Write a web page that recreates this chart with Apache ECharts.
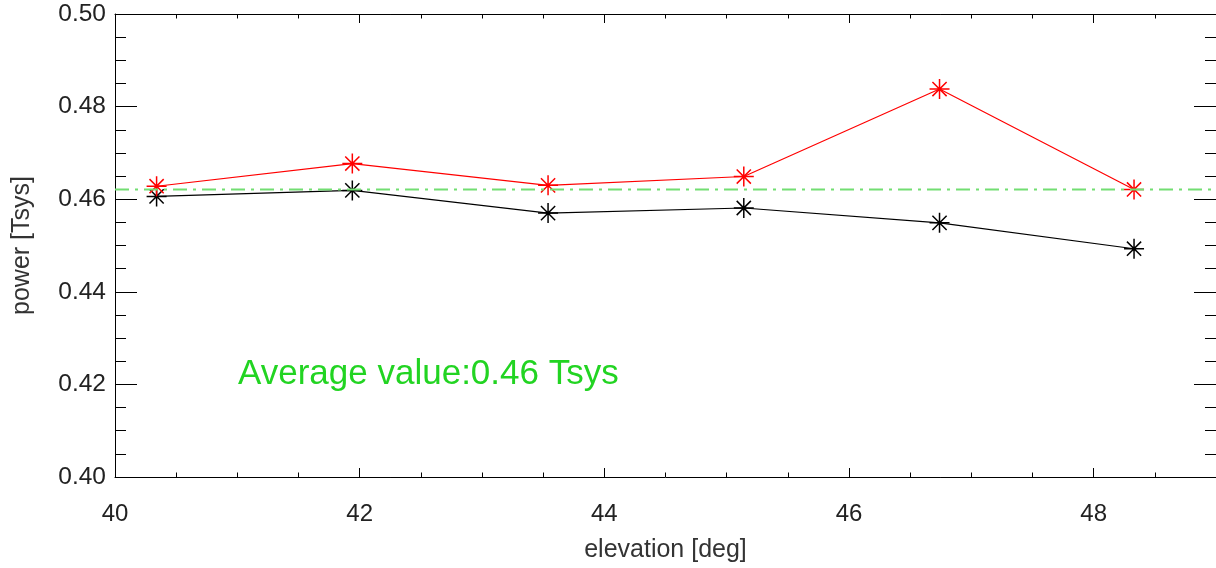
<!DOCTYPE html>
<html>
<head>
<meta charset="utf-8">
<script src="https://cdn.jsdelivr.net/npm/echarts@6/dist/echarts.min.js"></script>
<style>
html,body{margin:0;padding:0;background:#fff;}
#chart{width:1216px;height:568px;}
</style>
</head>
<body>
<div id="chart"></div>
<script>
// ---- data ----
const elevation = [40.34, 41.94, 43.54, 45.14, 46.74, 48.33];
const powerRed = [0.4628, 0.4677, 0.4630, 0.4649, 0.4838, 0.4621];
const powerBlack = [0.4606, 0.4619, 0.4570, 0.4581, 0.4549, 0.4493];
const averageValue = 0.4621;
const averageSpan = [40, 49];
const averageText = 'Average value:0.46 Tsys';
const xTitle = 'elevation [deg]';
const yTitle = 'power [Tsys]';

const FONT = '"Liberation Sans", Arial, Helvetica, sans-serif';
const star = 'path://M10 0 L10 20 M0 10 L20 10 M2.9 2.9 L17.1 17.1 M17.1 2.9 L2.9 17.1';

const chart = echarts.init(document.getElementById('chart'), null, {renderer: 'canvas'});

function pairs(xs, ys) { return xs.map((x, i) => [x, ys[i]]); }

const gridDef = {left: 115, top: 14, width: 1105, height: 464, containLabel: false};

const xMajor = {
  type: 'value', min: 40, max: 49, interval: 2,
  axisLine: {show: true, lineStyle: {color: '#000', width: 1}},
  axisTick: {show: true, inside: true, length: 9, lineStyle: {color: '#000', width: 1}},
  splitLine: {show: false}
};
const xMinor = {
  type: 'value', min: 40, max: 49, interval: 0.5,
  axisLine: {show: false},
  axisTick: {show: true, inside: true, length: 4.5, lineStyle: {color: '#000', width: 1}},
  axisLabel: {show: false},
  splitLine: {show: false}
};
const yBase = {
  type: 'value', min: 0.40, max: 0.50, interval: 0.02,
  axisLine: {show: true, lineStyle: {color: '#000', width: 1}},
  axisTick: {show: true, inside: true, length: 22, lineStyle: {color: '#000', width: 1}},
  minorTick: {show: true, splitNumber: 4, length: 11, lineStyle: {color: '#000', width: 1}},
  splitLine: {show: false}
};

const option = {
  animation: false,
  backgroundColor: '#fff',
  grid: gridDef,
  xAxis: [
    Object.assign({}, xMajor, {
      position: 'bottom',
      name: xTitle, nameLocation: 'middle', nameGap: 61,
      nameTextStyle: {fontFamily: FONT, fontSize: 25, color: '#333'},
      axisLabel: {show: true, margin: 25, showMaxLabel: false, fontFamily: FONT, fontSize: 24, color: '#222'}
    }),
    Object.assign({}, xMajor, {position: 'top', axisLabel: {show: false}}),
    Object.assign({}, xMinor, {position: 'bottom'}),
    Object.assign({}, xMinor, {position: 'top'})
  ],
  yAxis: [
    Object.assign({}, yBase, {
      position: 'left',
      name: yTitle, nameLocation: 'middle', nameGap: 80,
      nameTextStyle: {fontFamily: FONT, fontSize: 25, color: '#333'},
      axisLabel: {show: true, margin: 9, fontFamily: FONT, fontSize: 24.5, color: '#222',
        formatter: v => v.toFixed(2)}
    }),
    Object.assign({}, yBase, {position: 'right', axisLabel: {show: false}})
  ],
  series: [
    {
      type: 'line', xAxisIndex: 0, yAxisIndex: 0,
      data: averageSpan.map(x => [x, averageValue]),
      lineStyle: {color: '#72de72', width: 2, type: [14, 6, 3, 6]},
      symbol: 'none', silent: true, emphasis: {disabled: true}, z: 5
    },
    {
      type: 'line', xAxisIndex: 0, yAxisIndex: 0,
      data: pairs(elevation, powerBlack),
      lineStyle: {color: '#000', width: 1.2},
      symbol: star, symbolSize: 20,
      itemStyle: {color: '#000', borderColor: '#000', borderWidth: 1.5},
      emphasis: {disabled: true}, z: 3
    },
    {
      type: 'line', xAxisIndex: 0, yAxisIndex: 0,
      data: pairs(elevation, powerRed),
      lineStyle: {color: '#ff0000', width: 1.2},
      symbol: star, symbolSize: 20,
      itemStyle: {color: '#ff0000', borderColor: '#ff0000', borderWidth: 1.5},
      emphasis: {disabled: true}, z: 4
    }
  ],
  graphic: [{
    type: 'text', left: 238, top: 357, z: 10,
    style: {text: averageText, fontFamily: FONT, fontSize: 35, fill: '#22d422'}
  }]
};
chart.setOption(option);
</script>
</body>
</html>
